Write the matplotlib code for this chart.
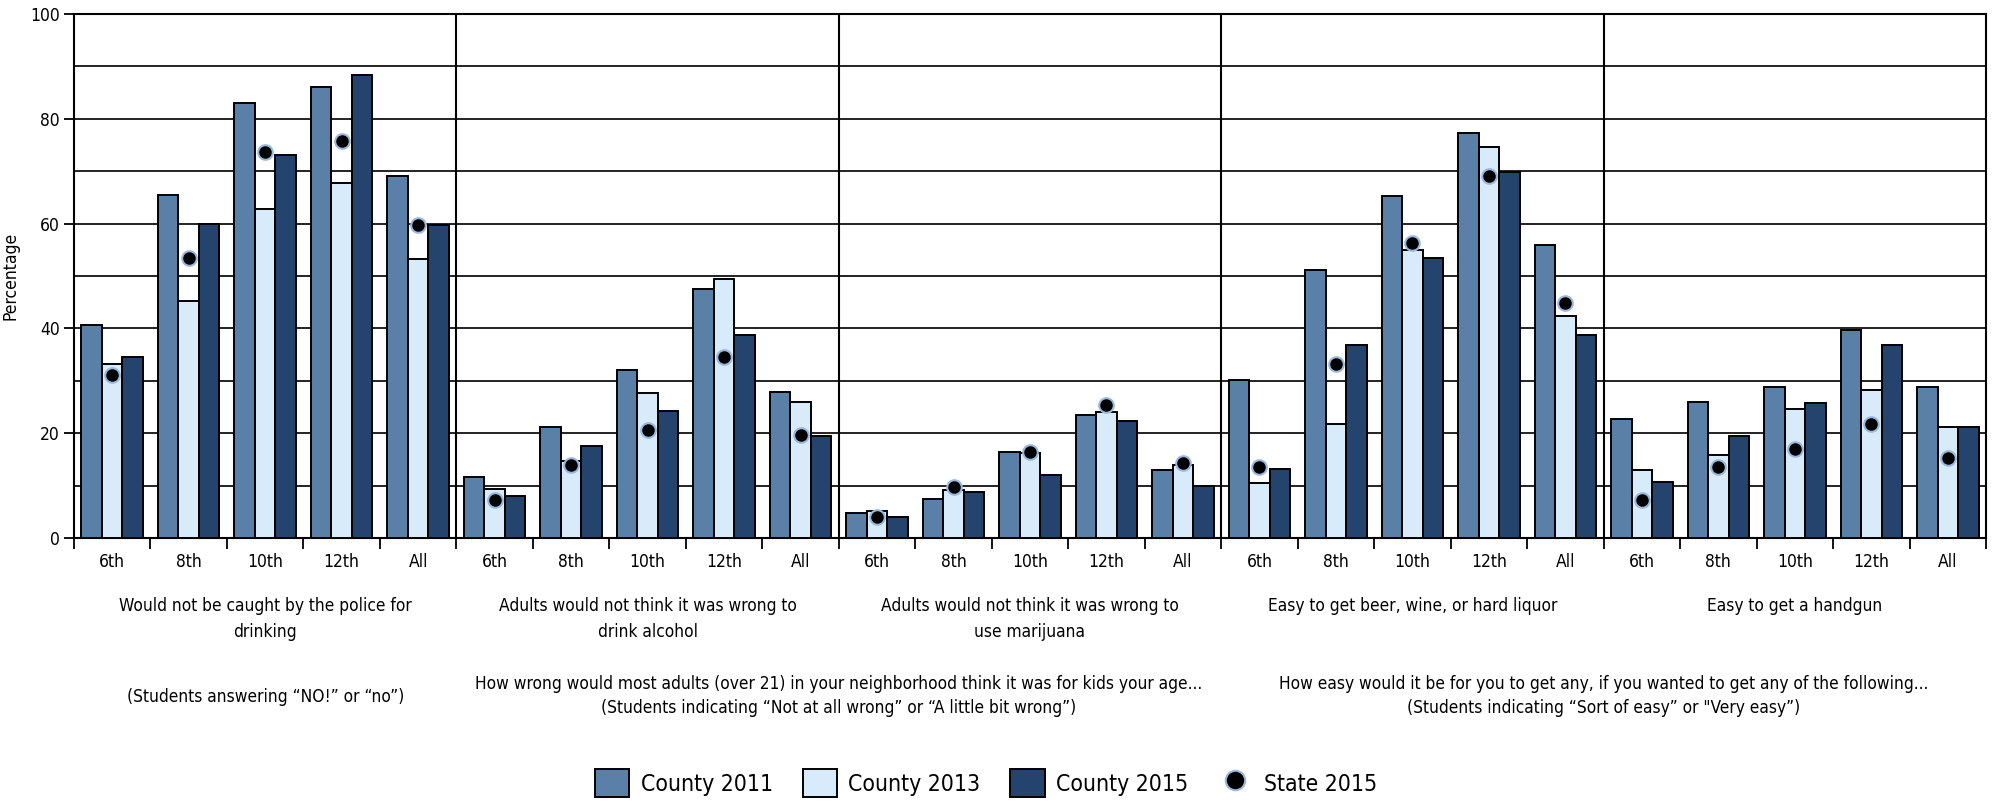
import matplotlib
matplotlib.use("Agg")
import matplotlib.pyplot as plt
import numpy as np
from matplotlib.transforms import blended_transform_factory
from matplotlib.patches import Patch
from matplotlib.lines import Line2D

plt.rcParams['font.family'] = ['DejaVu Sans']
plt.rcParams['font.stretch'] = 'condensed'

grades = ["6th", "8th", "10th", "12th", "All"]
panel_labels = [
    "Would not be caught by the police for\ndrinking",
    "Adults would not think it was wrong to\ndrink alcohol",
    "Adults would not think it was wrong to\nuse marijuana",
    "Easy to get beer, wine, or hard liquor",
    "Easy to get a handgun",
]
series_names = ["County 2011", "County 2013", "County 2015", "State 2015"]

county_2011 = [40.7, 65.5, 83.1, 86.0, 69.1,
               11.6, 21.1, 32.1, 47.5, 27.9,
               4.8, 7.4, 16.5, 23.4, 12.9,
               30.2, 51.1, 65.2, 77.2, 56.0,
               22.7, 26.0, 28.9, 39.6, 28.9]
county_2013 = [33.2, 45.2, 62.8, 67.8, 53.3,
               9.3, 14.6, 27.7, 49.5, 26.0,
               5.1, 9.1, 16.2, 24.0, 13.9,
               10.5, 21.7, 55.0, 74.7, 42.3,
               12.9, 15.9, 24.7, 28.3, 21.1]
county_2015 = [34.5, 59.9, 73.0, 88.4, 59.7,
               8.1, 17.5, 24.3, 38.7, 19.5,
               4.1, 8.7, 12.0, 22.4, 10.0,
               13.2, 36.8, 53.4, 69.8, 38.7,
               10.6, 19.5, 25.7, 36.8, 21.1]
state_2015 = [31.1, 53.5, 73.6, 75.8, 59.8,
              7.2, 13.9, 20.7, 34.6, 19.6,
              4.1, 9.7, 16.5, 25.4, 14.3,
              13.5, 33.2, 56.3, 69.1, 44.8,
              7.3, 13.5, 17.0, 21.7, 15.2]

colors = ["#5b80a8", "#d8ebfb", "#25446d"]

fig = plt.figure(figsize=(19.99, 8.01), dpi=100)
ax = fig.add_axes([74/1999, 1 - 538/801, (1986 - 74)/1999, (538 - 14)/801])

n = len(county_2011)
x = np.arange(n) + 0.5
w = 0.268
for k, vals in enumerate([county_2011, county_2013, county_2015]):
    ax.bar(x + (k - 1) * w, vals, width=w, color=colors[k], edgecolor="black",
           linewidth=1.4, zorder=3)
ax.plot(x, state_2015, linestyle="none", marker="o", markersize=10.5,
        markerfacecolor="black", markeredgecolor="#9ab8dd", markeredgewidth=1.5,
        zorder=4)

ax.set_xlim(0, n)
ax.set_ylim(0, 100)
ax.set_yticks(np.arange(0, 101, 20))
ax.set_yticks(np.arange(10, 100, 20), minor=True)
ax.yaxis.grid(True, which="both", color="#111111", linewidth=1.3, zorder=0)
ax.tick_params(axis="y", which="major", length=7, width=1.3, labelsize=12.5, pad=3)
ax.tick_params(axis="y", which="minor", length=0)
ax.set_ylabel("Percentage", fontsize=12.5, labelpad=8)

# category boundary ticks
ax.set_xticks(np.arange(0, n + 1))
ax.set_xticklabels([])
ax.tick_params(axis="x", which="major", length=8, width=1.3, direction="out")
for s in ax.spines.values():
    s.set_linewidth(1.5)
    s.set_color("black")

for b in [5, 10, 15, 20]:
    ax.axvline(b, color="black", linewidth=1.5, zorder=5)

trans = blended_transform_factory(ax.transData, fig.transFigure)
fs = 12.4
for i in range(n):
    ax.text(x[i], 1 - 562/801, grades[i % 5], transform=trans, ha="center",
            va="center", fontsize=12.5)
for p, lab in enumerate(panel_labels):
    ax.text(p * 5 + 2.5, 1 - 597/801, lab, transform=trans, ha="center",
            va="top", fontsize=fs, linespacing=1.6)

ax.text(2.5, 1 - 697/801, "(Students answering \u201cNO!\u201d or \u201cno\u201d)",
        transform=trans, ha="center", va="center", fontsize=fs)
ax.text(10, 1 - 684/801,
        "How wrong would most adults (over 21) in your neighborhood think it was for kids your age...",
        transform=trans, ha="center", va="center", fontsize=fs)
ax.text(10, 1 - 708/801,
        "(Students indicating \u201cNot at all wrong\u201d or \u201cA little bit wrong\u201d)",
        transform=trans, ha="center", va="center", fontsize=fs)
ax.text(20, 1 - 684/801,
        "How easy would it be for you to get any, if you wanted to get any of the following...",
        transform=trans, ha="center", va="center", fontsize=fs)
ax.text(20, 1 - 708/801,
        "(Students indicating \u201cSort of easy\u201d or \"Very easy\u201d)",
        transform=trans, ha="center", va="center", fontsize=fs)

handles = [Patch(facecolor=colors[k], edgecolor="black", linewidth=1.4) for k in range(3)]
handles.append(Line2D([], [], linestyle="none", marker="o", markersize=14,
                      markerfacecolor="black", markeredgecolor="#9ab8dd",
                      markeredgewidth=1.5))
fig.legend(handles, series_names, loc="center", bbox_to_anchor=(986/1999, 1 - 783/801),
           ncol=4, frameon=False, fontsize=16.5, handlelength=1.5, handleheight=1.5,
           columnspacing=1.3, handletextpad=0.5)

fig.savefig("out.png", dpi=100)
